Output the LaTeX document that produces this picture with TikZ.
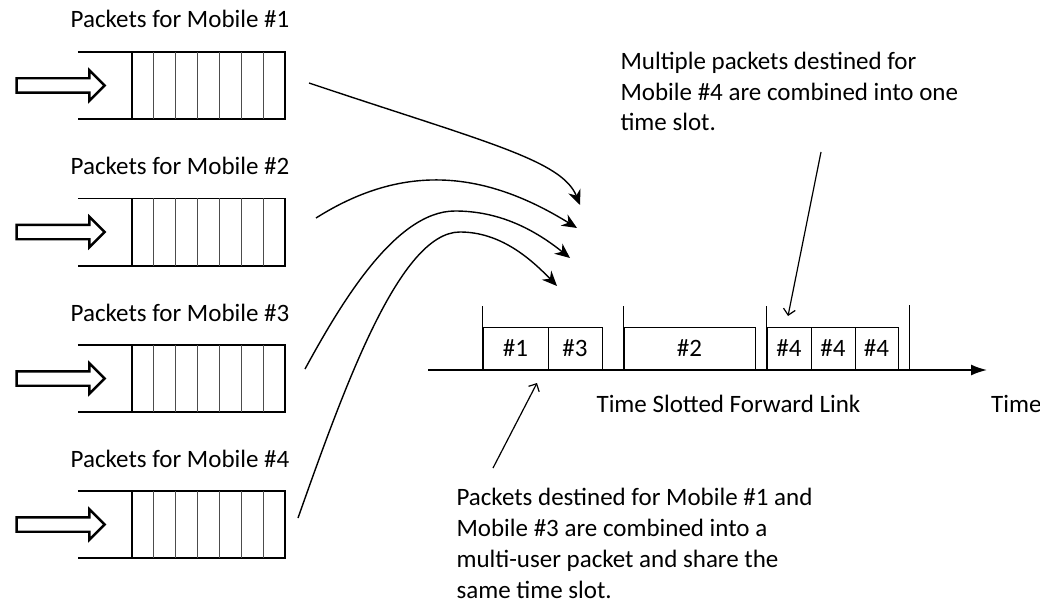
\documentclass[tikz,border=0pt]{standalone}
\usepackage{fontspec}
\setmainfont{Carlito}
\usetikzlibrary{shapes.arrows,arrows.meta}
\tikzset{
    every node/.style={font=\fontsize{25}{31}\selectfont},
    queuebox/.style={inner sep=0mm, minimum width=153, minimum height=67},
    qline/.style={line width=1.6pt},
    cellline/.style={line width=0.9pt, black!70},
    inarrow/.style={single arrow, draw, line width=2.4pt, inner sep=0mm,
        minimum height=88, single arrow head extend=8},
    qlabel/.style={anchor=base},
    slotbox/.style={draw, line width=1pt, inner sep=0mm, minimum height=43},
    feed/.style={line width=1.4pt, -{Stealth[length=15pt, width=13pt]}},
    note/.style={align=left, anchor=base west},
    pointer/.style={line width=1.2pt, -{Straight Barb[length=6pt, width=12pt]}}
}

\begin{document}
\begin{tikzpicture}[x=1pt, y=-1pt]
    \useasboundingbox (0,0) rectangle (1040,607);

    % queues
    \foreach \n/\y in {1/52, 2/198.5, 3/345, 4/491} {
        \node[queuebox] (q\n) at (208.5,\y+33.5) {};
        \node[qlabel] (l\n) at (180,\y-24) {Packets for Mobile \#\n};
        \node[inarrow] (in\n) at (57,\y+33.5) {\rule{0pt}{12pt}};
        \draw[qline] ([xshift=-54]q\n.north west) -- (q\n.north east)
            -- (q\n.south east) -- ([xshift=-54]q\n.south west);
        \foreach \k in {1,...,6}
            \draw[cellline] ([xshift=\k*21.86]q\n.north west) -- ([xshift=\k*21.86]q\n.south west);
        \draw[line width=2.6pt] (q\n.north west) -- (q\n.south west);
    }

    % ends of the feeding curves
    \coordinate (s1) at (309,83);
    \coordinate (s2) at (316,218);
    \coordinate (s3) at (305,369);
    \coordinate (s4) at (298,518);
    \coordinate (e1) at (580,205);
    \coordinate (e2) at (577,228);
    \coordinate (e3) at (570,258);
    \coordinate (e4) at (557,286);

    \draw[feed] (s1) .. controls (485,142) and (562,160) .. (e1);
    \draw[feed] (s2) .. controls (400,165) and (480,168) .. (e2);
    \draw[feed] (s3) .. controls (340,305) and (395,211) .. (455,211)
        .. controls (500,211) and (535,230) .. (e3);
    \draw[feed] (s4) .. controls (345,385) and (400,232) .. (460,232)
        .. controls (500,232) and (530,258) .. (e4);

    % time axis
    \coordinate (t0) at (428,370);
    \coordinate (t1) at (987,370);
    \draw[line width=1.6pt, -{Latex[length=16pt, width=11pt]}] (t0) -- (t1);

    % slots
    \node[slotbox, minimum width=65] (p1) at (515.5,348.5) {\#1};
    \node[slotbox, minimum width=54] (p3) at (575,348.5) {\#3};
    \node[slotbox, minimum width=131] (p2) at (689.5,348.5) {\#2};
    \node[slotbox, minimum width=44] (p4a) at (789,348.5) {\#4};
    \node[slotbox, minimum width=44] (p4b) at (833,348.5) {\#4};
    \node[slotbox, minimum width=43] (p4c) at (876.5,348.5) {\#4};

    \draw[line width=1pt] (p1.south west) -- ++(0,-65);
    \draw[line width=1pt] (p2.south west) -- ++(0,-65);
    \draw[line width=1pt] (p4a.south west) -- ++(0,-65);
    \draw[line width=1pt] (909,370) -- (909,305);

    \node[anchor=base] (link) at (728.5,412) {Time Slotted Forward Link};
    \node[anchor=base west, inner sep=0mm] (time) at (991,412) {Time};

    % notes (base is the last line)
    \node[note] (n4) at (617,131) {Multiple packets destined for\\Mobile \#4 are combined into one\\time slot.};
    \node[note] (n13) at (453,598) {Packets destined for Mobile \#1 and\\Mobile \#3 are combined into a\\multi-user packet and share the\\same time slot.};

    \coordinate (a1) at (821,152);
    \coordinate (a2) at (788,316);
    \coordinate (b1) at (493,468);
    \coordinate (b2) at (537,383);
    \draw[pointer] (a1) -- (a2);
    \draw[pointer] (b1) -- (b2);
\end{tikzpicture}
\end{document}
